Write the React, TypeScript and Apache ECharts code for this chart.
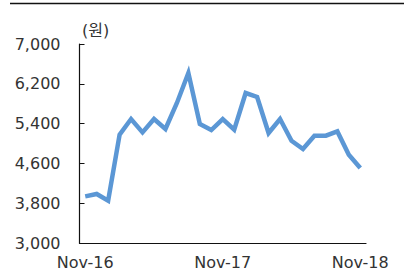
import React, { useEffect, useRef } from "react";
import * as echarts from "echarts";

const categories = [
  "Nov-16", "Dec-16", "Jan-17", "Feb-17", "Mar-17", "Apr-17", "May-17", "Jun-17", "Jul-17", "Aug-17", "Sep-17", "Oct-17",
  "Nov-17", "Dec-17", "Jan-18", "Feb-18", "Mar-18", "Apr-18", "May-18", "Jun-18", "Jul-18", "Aug-18", "Sep-18", "Oct-18",
  "Nov-18",
];
const prices = [
  3937, 3985, 3850, 5177, 5492, 5223, 5492, 5291, 5814, 6417, 5392, 5271,
  5492, 5277, 6015, 5935, 5211, 5492, 5056, 4889, 5157, 5157, 5243, 4775,
  4508,
];
const unitLabel = "(원)";

const FONT = "DejaVu Sans, Noto Sans CJK KR, sans-serif";

export default function App() {
  const ref = useRef<HTMLDivElement>(null);
  useEffect(() => {
    if (!ref.current) return;
    const chart = echarts.init(ref.current, undefined, { renderer: "svg" });
    chart.setOption({
      animation: false,
      backgroundColor: "#ffffff",
      grid: { left: 79.5, right: 51, top: 44, bottom: 29, containLabel: false },
      graphic: [
        {
          type: "line",
          shape: { x1: 10, y1: 3.5, x2: 404, y2: 3.5 },
          style: { stroke: "#111", lineWidth: 1.5 },
        },
        {
          type: "text",
          left: 82,
          top: 22,
          style: { text: unitLabel, font: `16px ${FONT}`, fill: "#333" },
        },
      ],
      xAxis: {
        type: "category",
        data: categories,
        boundaryGap: true,
        axisLine: { lineStyle: { color: "#111", width: 1.2 } },
        axisTick: { inside: true, length: 4, interval: 11, lineStyle: { color: "#111" } },
        axisLabel: { interval: 11, margin: 11, fontSize: 16, fontFamily: FONT, color: "#333" },
      },
      yAxis: {
        type: "value",
        min: 3000,
        max: 7000,
        interval: 800,
        splitLine: { show: false },
        axisLine: { show: true, lineStyle: { color: "#111", width: 1.2 } },
        axisTick: { show: true, inside: true, length: 5, lineStyle: { color: "#111" } },
        axisLabel: {
          margin: 19,
          fontSize: 16,
          fontFamily: FONT,
          color: "#333",
          formatter: (v: number) => v.toLocaleString("en-US"),
        },
      },
      series: [
        {
          type: "line",
          data: prices,
          symbol: "none",
          lineStyle: { color: "#5b97d5", width: 4.5, join: "miter" },
        },
      ],
    });
    return () => chart.dispose();
  }, []);
  return (
    <div
      ref={ref}
      style={{ position: "absolute", left: 0, top: 0, width: 417, height: 272 }}
    />
  );
}
